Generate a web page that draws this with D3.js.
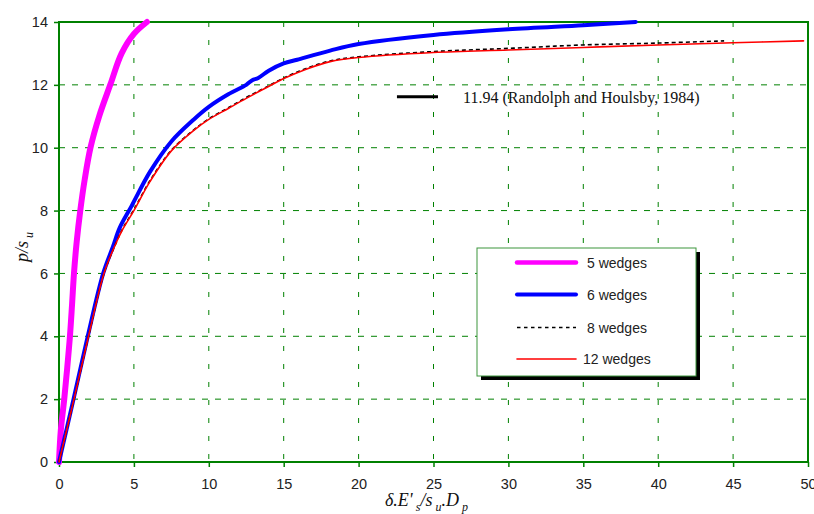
<!DOCTYPE html>
<html>
<head>
<meta charset="utf-8">
<script src="https://cdn.jsdelivr.net/npm/d3@7"></script>
<style>
  body { margin: 0; background: #fff; }
  svg { display: block; }
</style>
</head>
<body>
<div id="chart"></div>
<script>
/* CONSTANTS AND GLOBALS */
const width = 814,
  height = 514,
  margin = { top: 22, bottom: 52, left: 59, right: 6 };

// tick values
const xTicks = [0, 5, 10, 15, 20, 25, 30, 35, 40, 45, 50];
const yTicks = [0, 2, 4, 6, 8, 10, 12, 14];

// series: [x, p/su]
const wedges5 = [[0, 0], [0.12, 1], [0.35, 2], [0.55, 3], [0.73, 4], [0.87, 5], [1.0, 6], [1.18, 7],
  [1.42, 8], [1.72, 9], [2.1, 10], [2.68, 11], [3.42, 12], [4.18, 13], [5.0, 13.62], [5.87, 14]];

const wedges6 = [[0, 0], [0.97, 2], [1.92, 4], [2.95, 6], [3.6, 6.85], [4.05, 7.45], [4.85, 8.15],
  [6.07, 9.23], [7.5, 10.2], [9, 10.9], [10, 11.3], [11.3, 11.7], [12.5, 12.0], [12.9, 12.15],
  [13.3, 12.22], [14, 12.45], [15, 12.68], [15.9, 12.8], [18.1, 13.09], [20, 13.3], [25, 13.59],
  [30, 13.77], [35, 13.9], [38.5, 14.0]];

const wedges8 = [[0, 0], [1.0, 2], [1.97, 4], [3.0, 6], [3.7, 6.85], [4.25, 7.42], [5.0, 8.03],
  [6.07, 8.95], [7.5, 9.92], [9, 10.57], [10, 10.92], [11.3, 11.27], [12.5, 11.6], [13.8, 11.92],
  [15, 12.22], [16.5, 12.52], [18.1, 12.76], [20, 12.89], [25, 13.06], [30, 13.16], [35, 13.27],
  [40, 13.33], [44.4, 13.4]];

const wedges12 = [[0, 0], [1.0, 2], [1.97, 4], [3.0, 6], [3.7, 6.85], [4.25, 7.4], [5.0, 8],
  [6.07, 8.92], [7.5, 9.9], [9, 10.55], [10, 10.9], [11.3, 11.25], [12.5, 11.57], [13.8, 11.9],
  [15, 12.2], [16.5, 12.5], [18.1, 12.74], [20, 12.87], [25, 13.03], [30, 13.11], [35, 13.19],
  [40, 13.27], [45, 13.34], [49.7, 13.4]];

// reference mark (drawn where the picture shows it)
const refX = [22.56, 25.3];
const refP = 11.62;
const refLabel = "11.94 (Randolph and Houlsby, 1984)";

const series = [
  { name: "5 wedges", data: wedges5, color: "#ff00ff", w: 6, dash: null },
  { name: "6 wedges", data: wedges6, color: "#0000ff", w: 4, dash: null },
  { name: "8 wedges", data: wedges8, color: "#000000", w: 1.6, dash: "4,3" },
  { name: "12 wedges", data: wedges12, color: "#ff0000", w: 1.6, dash: null }
];

const green = "#008000";

const svg = d3.select("#chart").append("svg")
  .attr("width", width)
  .attr("height", height);

// SCALES
const xScale = d3.scaleLinear().domain([0, 50]).range([margin.left, width - margin.right]);
const yScale = d3.scaleLinear().domain([0, 14]).range([height - margin.bottom, margin.top]);

// GRID
svg.append("g").selectAll("line")
  .data(yTicks.slice(1, -1))
  .join("line")
  .attr("x1", margin.left).attr("x2", width - margin.right)
  .attr("y1", d => yScale(d)).attr("y2", d => yScale(d))
  .attr("stroke", green).attr("stroke-width", 1)
  .attr("stroke-dasharray", "6,7");

svg.append("g").selectAll("line")
  .data(xTicks.slice(1, -1))
  .join("line")
  .attr("x1", d => xScale(d)).attr("x2", d => xScale(d))
  .attr("y1", margin.top).attr("y2", height - margin.bottom)
  .attr("stroke", green).attr("stroke-width", 1)
  .attr("stroke-dasharray", "5,13");

// AXES
const xAxis = d3.axisBottom(xScale).tickValues(xTicks).tickSize(5).tickPadding(12).tickFormat(d3.format("d"));
const yAxis = d3.axisLeft(yScale).tickValues(yTicks).tickSize(5).tickPadding(6).tickFormat(d3.format("d"));

const gx = svg.append("g")
  .attr("transform", `translate(0, ${height - margin.bottom})`)
  .call(xAxis);
const gy = svg.append("g")
  .attr("transform", `translate(${margin.left}, 0)`)
  .call(yAxis);

[gx, gy].forEach(g => {
  g.select(".domain").remove();
  g.selectAll(".tick line").attr("stroke", green).attr("stroke-width", 1.5);
  g.selectAll(".tick text")
    .attr("font-family", "Liberation Sans, Arial, sans-serif")
    .attr("font-size", 14.5)
    .attr("fill", "#222");
});

// frame
svg.append("rect")
  .attr("x", margin.left).attr("y", margin.top)
  .attr("width", width - margin.left - margin.right)
  .attr("height", height - margin.top - margin.bottom)
  .attr("fill", "none").attr("stroke", green).attr("stroke-width", 2);

// LINES
const line = d3.line()
  .x(d => xScale(d[0]))
  .y(d => yScale(d[1]))
  .curve(d3.curveCatmullRom.alpha(0.5));

svg.append("g").selectAll("path")
  .data(series)
  .join("path")
  .attr("d", d => line(d.data))
  .attr("fill", "none")
  .attr("stroke", d => d.color)
  .attr("stroke-width", d => d.w)
  .attr("stroke-linecap", d => d.dash ? "butt" : "round")
  .attr("stroke-linejoin", "round")
  .attr("stroke-dasharray", d => d.dash);

// reference line + label
svg.append("line")
  .attr("x1", xScale(refX[0])).attr("x2", xScale(refX[1]))
  .attr("y1", yScale(refP)).attr("y2", yScale(refP))
  .attr("stroke", "#000").attr("stroke-width", 3);

svg.append("text")
  .attr("x", xScale(refX[1]) + 25)
  .attr("y", yScale(refP) + 6)
  .attr("font-family", "Liberation Serif, Times New Roman, serif")
  .attr("font-size", 16)
  .attr("fill", "#111")
  .text(refLabel);

// LEGEND
const lg = svg.append("g").attr("transform", "translate(477, 248)");
lg.append("rect")
  .attr("x", 4).attr("y", 4).attr("width", 219).attr("height", 128)
  .attr("fill", "#000");
lg.append("rect")
  .attr("x", 0).attr("y", 0).attr("width", 219).attr("height", 128)
  .attr("fill", "#fff").attr("stroke", "#3c963c").attr("stroke-width", 1);

const rows = [14.5, 46.5, 79.5, 111];
const items = lg.selectAll("g.item")
  .data(series)
  .join("g")
  .attr("class", "item")
  .attr("transform", (d, i) => `translate(0, ${rows[i]})`);

items.append("line")
  .attr("x1", 40).attr("x2", 99)
  .attr("stroke", d => d.color)
  .attr("stroke-width", d => Math.min(d.w, 4.5))
  .attr("stroke-linecap", d => d.dash ? "butt" : "round")
  .attr("stroke-dasharray", d => d.dash ? "3.5,3.5" : null);

items.append("text")
  .attr("x", (d, i) => i === 3 ? 106 : 110)
  .attr("y", 5)
  .attr("font-family", "Liberation Sans, Arial, sans-serif")
  .attr("font-size", 14)
  .attr("fill", "#222")
  .text(d => d.name);

// AXIS TITLES
const xt = svg.append("text")
  .attr("x", 385).attr("y", 506)
  .attr("font-family", "Liberation Serif, Times New Roman, serif")
  .attr("font-style", "italic")
  .attr("font-size", 18)
  .attr("fill", "#111");
xt.append("tspan").text("δ.E'");
xt.append("tspan").attr("font-size", 12).attr("dy", 5).text(" s");
xt.append("tspan").attr("dy", -5).text("/s");
xt.append("tspan").attr("font-size", 12).attr("dy", 5).text(" u");
xt.append("tspan").attr("dy", -5).text(".D");
xt.append("tspan").attr("font-size", 12).attr("dy", 5).text(" p");

const yt = svg.append("text")
  .attr("transform", "translate(28, 262) rotate(-90)")
  .attr("font-family", "Liberation Serif, Times New Roman, serif")
  .attr("font-style", "italic")
  .attr("font-size", 18)
  .attr("fill", "#111");
yt.append("tspan").text("p/s");
yt.append("tspan").attr("font-size", 12).attr("dy", 5).text(" u");
</script>
</body>
</html>
